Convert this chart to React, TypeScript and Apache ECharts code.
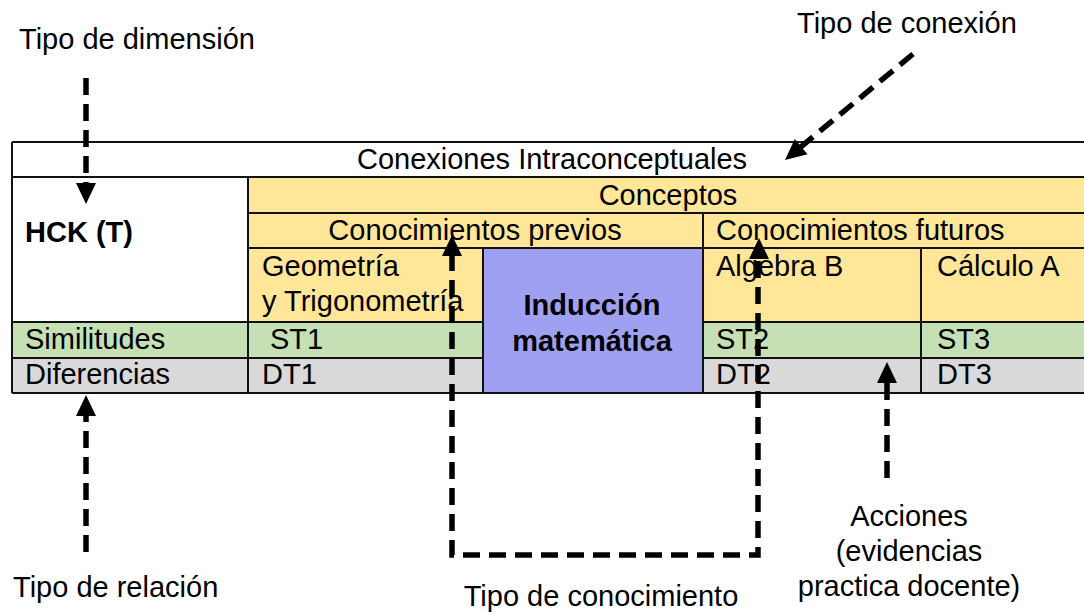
import React, { useEffect, useRef } from "react";
import * as echarts from "echarts";

// ---- Content (texts of the diagram) ----
const tableTitle = "Conexiones Intraconceptuales";
const conceptHeader = "Conceptos";
const knowledgeGroups = ["Conocimientos previos", "Conocimientos futuros"];
const dimensionLabel = "HCK (T)";
const conceptNames = ["Geometría", "y Trigonometría", "Algebra B", "Cálculo A"];
const focusConcept = ["Inducción", "matemática"];
const relationLabels = ["Similitudes", "Diferencias"];
const similarityCodes = ["ST1", "ST2", "ST3"];
const differenceCodes = ["DT1", "DT2", "DT3"];
const annotationTop = ["Tipo de dimensión", "Tipo de conexión"];
const annotationBottom = ["Tipo de relación", "Tipo de conocimiento"];
const actionLines = ["Acciones", "(evidencias", "practica docente)"];

// ---- Layout ----
const W = 1084;
const H = 615;
const X = [12, 248, 483, 703, 921, 1090];
const Y = [142, 177, 213, 248, 322, 358, 393];
const FONT = "'Liberation Sans', Arial, sans-serif";
const FS = 29;
const YELLOW = "#FFE699";
const GREEN = "#C5E0B4";
const GRAY = "#D9D9D9";
const PURPLE = "#A0A0F2";
const LINE = "#111";

function rect(x1: number, y1: number, x2: number, y2: number, fill: string) {
  return { type: "rect", shape: { x: x1, y: y1, width: x2 - x1, height: y2 - y1 }, style: { fill }, silent: true };
}
function hline(y: number, x1: number, x2: number) {
  return { type: "line", shape: { x1, y1: y, x2, y2: y }, style: { stroke: LINE, lineWidth: 2 }, silent: true };
}
function vline(x: number, y1: number, y2: number) {
  return { type: "line", shape: { x1: x, y1, x2: x, y2 }, style: { stroke: LINE, lineWidth: 2 }, silent: true };
}
function txt(text: string, x: number, y: number, align = "left", bold = false) {
  return {
    type: "text",
    x,
    y,
    silent: true,
    style: {
      text,
      x: 0,
      y: 0,
      fill: "#000",
      font: `${bold ? "bold " : ""}${FS}px ${FONT}`,
      align,
      verticalAlign: "middle",
    },
  };
}
const DASH = [17, 9];
function dashedPath(points: number[][]) {
  return {
    type: "polyline",
    shape: { points },
    style: { stroke: "#000", lineWidth: 5.5, lineDash: DASH, fill: null },
    silent: true,
  };
}
function head(tip: number[], dir: number[], len = 21, half = 10) {
  const l = Math.hypot(dir[0], dir[1]);
  const ux = dir[0] / l;
  const uy = dir[1] / l;
  const bx = tip[0] - ux * len;
  const by = tip[1] - uy * len;
  const px = -uy;
  const py = ux;
  return {
    type: "polygon",
    shape: { points: [tip, [bx + px * half, by + py * half], [bx - px * half, by - py * half]] },
    style: { fill: "#000" },
    silent: true,
  };
}
// dashed arrow from start to tip (straight)
function arrow(start: number[], tip: number[]) {
  const dx = tip[0] - start[0];
  const dy = tip[1] - start[1];
  const l = Math.hypot(dx, dy);
  const base = [tip[0] - (dx / l) * 19, tip[1] - (dy / l) * 19];
  return [dashedPath([start, base]), head(tip, [dx, dy])];
}

function buildGraphics() {
  const g: any[] = [];
  g.push(rect(0, 0, W, H, "#fff"));
  // cells
  g.push(rect(X[0], Y[0], X[5], Y[1], "#fff"));
  g.push(rect(X[0], Y[1], X[1], Y[4], "#fff"));
  g.push(rect(X[1], Y[1], X[5], Y[4], YELLOW));
  g.push(rect(X[0], Y[4], X[2], Y[5], GREEN));
  g.push(rect(X[3], Y[4], X[5], Y[5], GREEN));
  g.push(rect(X[0], Y[5], X[2], Y[6], GRAY));
  g.push(rect(X[3], Y[5], X[5], Y[6], GRAY));
  g.push(rect(X[2], Y[3], X[3], Y[6], PURPLE));

  // grid lines
  g.push(hline(Y[0], X[0], X[5]));
  g.push(hline(Y[1], X[0], X[5]));
  g.push(hline(Y[2], X[1], X[5]));
  g.push(hline(Y[3], X[1], X[5]));
  g.push(hline(Y[4], X[0], X[2]));
  g.push(hline(Y[4], X[3], X[5]));
  g.push(hline(Y[5], X[0], X[2]));
  g.push(hline(Y[5], X[3], X[5]));
  g.push(hline(Y[6], X[0], X[5]));
  g.push(vline(X[0], Y[0], Y[6]));
  g.push(vline(X[1], Y[1], Y[6]));
  g.push(vline(X[2], Y[3], Y[6]));
  g.push(vline(X[3], Y[2], Y[6]));
  g.push(vline(X[4], Y[3], Y[6]));

  // table texts
  g.push(txt(tableTitle, 552, 159, "center"));
  g.push(txt(conceptHeader, 668, 195, "center"));
  g.push(txt(knowledgeGroups[0], 475, 230, "center"));
  g.push(txt(knowledgeGroups[1], 716, 230));
  g.push(txt(dimensionLabel, 25, 232, "left", true));
  g.push(txt(conceptNames[0], 262, 266));
  g.push(txt(conceptNames[1], 262, 301));
  g.push(txt(conceptNames[2], 716, 266));
  g.push(txt(conceptNames[3], 937, 266));
  g.push(txt(focusConcept[0], 592, 305, "center", true));
  g.push(txt(focusConcept[1], 592, 341, "center", true));
  g.push(txt(relationLabels[0], 25, 339));
  g.push(txt(relationLabels[1], 25, 374));
  const codeX = [270, 716, 937];
  const codeXd = [262, 716, 937];
  similarityCodes.forEach((c, i) => g.push(txt(c, codeX[i], 339)));
  differenceCodes.forEach((c, i) => g.push(txt(c, codeXd[i], 374)));

  // annotations
  g.push(txt(annotationTop[0], 19, 39));
  g.push(txt(annotationTop[1], 797, 23));
  g.push(txt(annotationBottom[0], 13, 587));
  g.push(txt(annotationBottom[1], 601, 596, "center"));
  actionLines.forEach((t, i) => g.push(txt(t, 909, 516 + i * 35, "center")));

  // arrows
  g.push(...arrow([86, 78], [86, 204]));
  g.push(...arrow([913, 54], [785, 160]));
  g.push(...arrow([86, 552], [86, 395]));
  g.push(...arrow([887, 478], [887, 362]));
  // knowledge-type bracket with two arrows
  g.push(dashedPath([[452, 254], [452, 555], [758, 555], [758, 257]]));
  g.push(head([452, 235], [0, -1]));
  g.push(head([759, 238], [0, -1]));
  return g;
}

export default function App() {
  const ref = useRef<HTMLDivElement>(null);
  useEffect(() => {
    if (!ref.current) return;
    const chart = echarts.init(ref.current, undefined, { renderer: "svg", width: W, height: H });
    chart.setOption({
      animation: false,
      backgroundColor: "#fff",
      graphic: { elements: buildGraphics() },
    });
    return () => chart.dispose();
  }, []);
  return (
    <div
      ref={ref}
      style={{ position: "fixed", left: 0, top: 0, width: W, height: H, background: "#fff" }}
    />
  );
}
